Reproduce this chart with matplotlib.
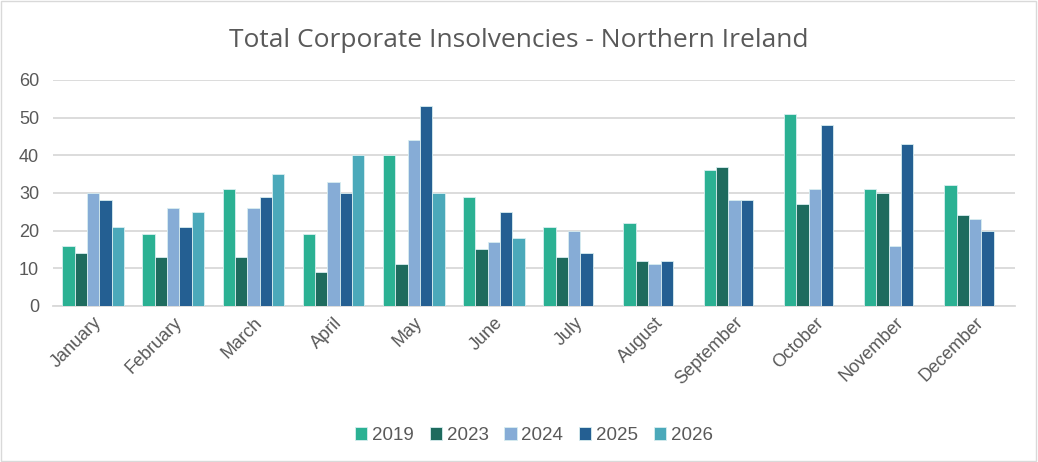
import numpy as np
import matplotlib.pyplot as plt

months = ['January', 'February', 'March', 'April', 'May', 'June', 'July',
          'August', 'September', 'October', 'November', 'December']
years = ['2019', '2023', '2024', '2025', '2026']

v2019 = [16, 19, 31, 19, 40, 29, 21, 22, 36, 51, 31, 32]
v2023 = [14, 13, 13, 9, 11, 15, 13, 12, 37, 27, 30, 24]
v2024 = [30, 26, 26, 33, 44, 17, 20, 11, 28, 31, 16, 23]
v2025 = [28, 21, 29, 30, 53, 25, 14, 12, 28, 48, 43, 20]
v2026 = [21, 25, 35, 40, 30, 18, np.nan, np.nan, np.nan, np.nan, np.nan, np.nan]

colors = ['#2BB193', '#1E6B5E', '#86ACD6', '#245F92', '#4BA9BA']
series = [v2019, v2023, v2024, v2025, v2026]

fig = plt.figure(figsize=(10.38, 4.62), dpi=100)
ax = fig.add_axes([0.051, 0.338, 0.927, 0.489])

x = np.arange(len(months))
w = 0.154
for i, (vals, c, lab) in enumerate(zip(series, colors, years)):
    ax.bar(x + (i - 2) * w, vals, width=w, color=c, edgecolor='#D8EEF0',
           linewidth=0.6, label=lab, zorder=3)

ax.set_xlim(-0.5, 11.5)
ax.set_ylim(0, 60)
ax.set_yticks(range(0, 61, 10))
ax.grid(axis='y', color='#D9D9D9', linewidth=1.3, zorder=0)
for s in ['top', 'right', 'left']:
    ax.spines[s].set_visible(False)
ax.spines['bottom'].set_color('#D9D9D9')
ax.spines['bottom'].set_linewidth(1.3)
ax.tick_params(length=0, labelsize=13, labelcolor='#595959')
ax.tick_params(axis='y', pad=10)
ax.tick_params(axis='x', pad=6)
ax.set_xticks(x)
ax.set_xticklabels(months, rotation=45, ha='right', rotation_mode='anchor')
for t in ax.get_xticklabels() + ax.get_yticklabels():
    t.set_family('Liberation Sans')

fig.suptitle('Total Corporate Insolvencies - Northern Ireland', y=0.94,
             fontsize=19, color='#595959', family='Open Sans')

leg = ax.legend(loc='center', bbox_to_anchor=(0.5, -0.575), ncol=5, frameon=False,
                handlelength=0.65, handleheight=0.65, handletextpad=0.25,
                columnspacing=0.85, prop={'family': 'Liberation Sans', 'size': 13.5})
for t in leg.get_texts():
    t.set_color('#595959')

fig.patches.append(plt.Rectangle((0.001, 0.002), 0.997, 0.995, transform=fig.transFigure,
                                 fill=False, edgecolor='#D9D9D9', linewidth=1))
fig.savefig('out.png', dpi=100)
